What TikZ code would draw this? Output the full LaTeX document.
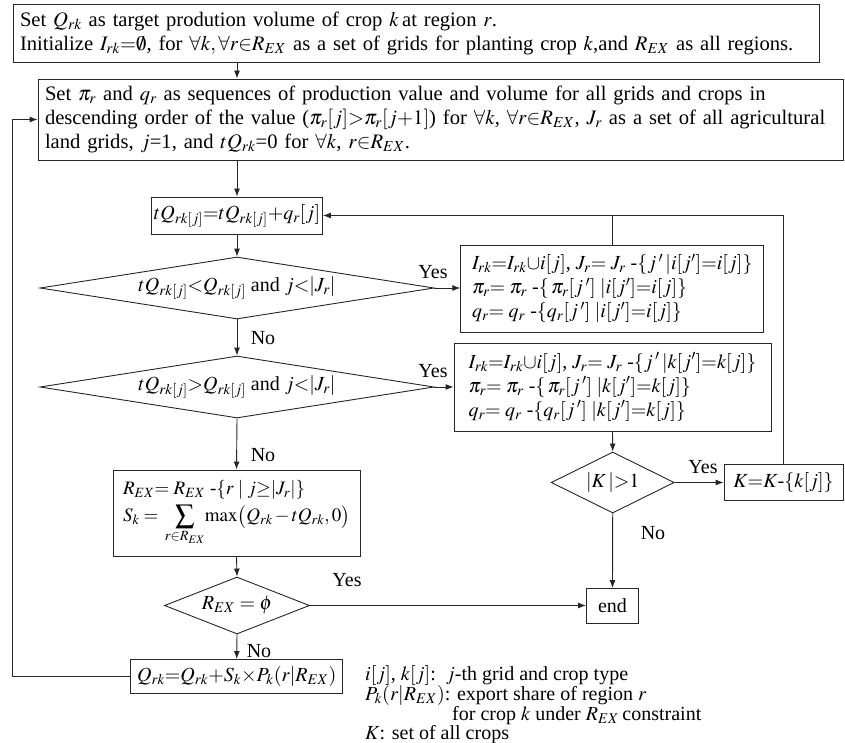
\documentclass[tikz,border=0pt]{standalone}
\usepackage{mathptmx}
\usepackage[no-math]{fontspec}
\setmainfont{Liberation Serif}
\usetikzlibrary{shapes.geometric,arrows.meta}
\begin{document}
\begin{tikzpicture}[x=1pt,y=-1pt,
  font=\fontsize{20}{22.5}\selectfont,
  box/.style={draw=black!85, line width=0.9pt, inner sep=0pt, align=left},
  wide/.style={draw=black!85, line width=0.9pt, inner xsep=7pt, inner ysep=0pt, align=left,
    font=\fontsize{20.6}{24}\selectfont},
  dia/.style={draw=black!85, diamond, line width=0.9pt, inner sep=0pt},
  arr/.style={draw=black!85, line width=0.9pt, -{Latex[length=8pt,width=6pt]}},
  ln/.style={draw=black!85, line width=0.9pt},
  lab/.style={inner sep=0pt},
  leg/.style={inner sep=0pt, anchor=base west, font=\fontsize{20}{22}\selectfont}]
\useasboundingbox (0,0) rectangle (845,743);

\node[wide, text width=792pt, minimum height=58pt] (b1) at (416,33)
  {\mbox{Set $Q_{rk}$ as target prodution volume of crop $k$\,at region $r$.}\\
   \mbox{Initialize $I_{rk}{=}\emptyset$, for $\forall k,\forall r{\in}R_{EX}$ as a set of grids for planting crop $k$,and $R_{EX}$ as all regions.}};

\node[wide, text width=791pt, minimum height=81pt] (b2) at (440.5,119.5)
  {\mbox{Set $\pi_r$ and $q_r$ as sequences of production value and volume for all grids and crops in}\\
   \mbox{descending order of the value ($\pi_r[j]{>}\pi_r[j{+}1]$) for $\forall k$, $\forall r{\in}R_{EX}$, $J_r$ as a set of all agricultural}\\
   \mbox{land grids, $j$=1, and $tQ_{rk}$=0 for $\forall k$, $r{\in}R_{EX}$.}};

\node[box, minimum width=171pt, minimum height=37pt] (b3) at (237,215.5)
  {$tQ_{rk[j]}{=}tQ_{rk[j]}{+}q_r[j]$};

\node[dia, minimum width=394pt, minimum height=62pt,
  label={center:$tQ_{rk[j]}{<}Q_{rk[j]}$ and $j{<}|J_r|$}] (d1) at (237,288) {};

\node[box, minimum width=303pt, minimum height=87pt, font=\fontsize{20}{24}\selectfont] (b4) at (612.3,288.5)
  {$I_{rk}{=}I_{rk}{\cup}i[j]$, $J_r{=}\;J_r$ -$\{j\,'\,|i[j']{=}i[j]\}$\\
   $\pi_r{=}\;\pi_r$ -$\{\,\pi_r[j\,']\;|i[j']{=}i[j]\}$\\
   $q_r{=}\;q_r$ -$\{q_r[j\,']\;|i[j']{=}i[j]\}$};

\node[dia, minimum width=394pt, minimum height=62pt,
  label={center:$tQ_{rk[j]}{>}Q_{rk[j]}$ and $j{<}|J_r|$}] (d2) at (237,387) {};

\node[box, minimum width=317pt, minimum height=88pt, font=\fontsize{20}{24}\selectfont] (b5) at (612.5,387)
  {$I_{rk}{=}I_{rk}{\cup}i[j]$, $J_r{=}\;J_r$ -$\{j\,'\,|k[j']{=}k[j]\}$\\
   $\pi_r{=}\;\pi_r$ -$\{\,\pi_r[j\,']\;|k[j']{=}k[j]\}$\\
   $q_r{=}\;q_r$ -$\{q_r[j\,']\;|k[j']{=}k[j]\}$};

\node[box, minimum width=247pt, minimum height=86pt, font=\fontsize{19}{22}\selectfont] (b6) at (236.5,513)
  {$R_{EX}{=}\;R_{EX}$ -$\{r\mid j{\geq}|J_r|\}$\\[5pt]
   $S_k\;{=}\;\displaystyle\sum_{r\in R_{EX}}\!\max\bigl(Q_{rk}\,{-}\,tQ_{rk},0\bigr)$};

\node[dia, minimum width=123pt, minimum height=61pt,
  label={center:$|K\,|{>}1$}] (d3) at (612.7,482.5) {};

\node[box, minimum width=119pt, minimum height=36pt] (bK) at (783.5,482)
  {$K{=}K$-$\{k[j]\}$};

\node[box, minimum width=52pt, minimum height=35pt] (end) at (612.5,606) {end};

\node[dia, minimum width=145pt, minimum height=57pt,
  label={center:$R_{EX}=\phi$}] (d4) at (237,605.5) {};

\node[box, minimum width=212pt, minimum height=34pt] (b7) at (236.7,676.5)
  {$Q_{rk}{=}Q_{rk}{+}S_k{\times}P_k(r|R_{EX})$};

\coordinate (lp) at (12.3,0);

% connectors
\draw[arr] (b1.south -| b3.north) -- (b2.north -| b3.north);
\draw[arr] (b2.south -| b3.north) -- (b3.north);
\draw[arr] (b3.south) -- (d1.north);
\draw[arr] (d1.east) -- (d1.east -| b4.west);
\draw[arr] (d1.south) -- (d2.north);
\draw[arr] (d2.east) -- (d2.east -| b5.west);
\draw[arr] (d2.south) -- (b6.north);
\draw[arr] (b6.south) -- (d4.north);
\draw[arr] (d4.east) -- (d4.east -| end.west);
\draw[arr] (d4.south) -- (b7.north);
\draw[arr] (b7.west) -| (lp |- b2.west) -- (b2.west);
\draw[arr] (b5.south) -- (d3.north);
\draw[arr] (d3.east) -- (d3.east -| bK.west);
\draw[arr] (d3.south) -- (end.north);
\draw[arr] (bK.north) |- (b3.east);
\draw[ln] (b4.north) -- (b4.north |- b3.east);

% labels
\node[lab] (y1) at (433,272) {Yes};
\node[lab] (y2) at (433,371) {Yes};
\node[lab] (y3) at (703,467) {Yes};
\node[lab] (y4) at (347,580) {Yes};
\node[lab] (n1) at (263,338) {No};
\node[lab] (n2) at (263,455) {No};
\node[lab] (n3) at (653,533) {No};
\node[lab] (n4) at (259,651) {No};

% legend
\node[leg] (l1) at (365,680) {$i[j]$, $k[j]$:\ \ $j$-th grid and crop type};
\node[leg] (l2) at (365,700) {$P_k(r|R_{EX})$: export share of region $r$};
\node[leg] (l3) at (452,720) {for crop $k$ under $R_{EX}$\,constraint};
\node[leg] (l4) at (365,739) {$K$: set of all crops};
\end{tikzpicture}
\end{document}
